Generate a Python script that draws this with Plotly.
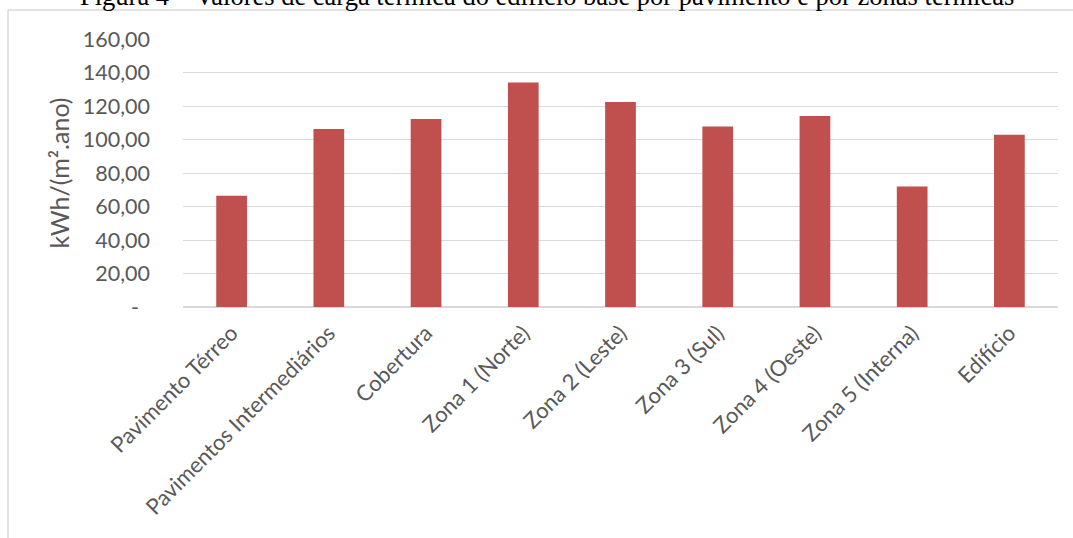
import plotly.graph_objects as go

# Thermal load per floor and per thermal zone (kWh/(m².ano))
categories = [
    "Pavimento Térreo",
    "Pavimentos Intermediários",
    "Cobertura",
    "Zona 1 (Norte)",
    "Zona 2 (Leste)",
    "Zona 3 (Sul)",
    "Zona 4 (Oeste)",
    "Zona 5 (Interna)",
    "Edifício",
]
values = [66.4, 106.3, 112.3, 134.0, 122.4, 107.7, 114.0, 72.0, 102.9]

tick_vals = [0, 20, 40, 60, 80, 100, 120, 140, 160]
tick_text = ["-\u00a0\u00a0", "20,00", "40,00", "60,00", "80,00",
             "100,00", "120,00", "140,00", "160,00"]

title_text = ("Figura 4 – Valores de carga térmica do edifício base "
              "por pavimento e por zonas térmicas")

W, H = 1073, 538
L, R, T, B = 183, 15, 39, 231
pw, ph = W - L - R, H - T - B


def px_x(x):
    return (x - L) / pw


def px_y(y):
    return (H - B - y) / ph


TEXT = "#595959"
GRID = "#D9D9D9"
FONT = "Lato"

fig = go.Figure(
    go.Bar(
        x=categories,
        y=values,
        marker=dict(color="#C0504D", line=dict(width=0)),
        width=0.316,
    )
)

fig.update_layout(
    width=W,
    height=H,
    margin=dict(l=L, r=R, t=T, b=B),
    paper_bgcolor="white",
    plot_bgcolor="white",
    showlegend=False,
    font=dict(family=FONT, color=TEXT, size=22),
)

fig.update_xaxes(
    tickangle=-45,
    tickfont=dict(family=FONT, size=22, color=TEXT),
    showgrid=False,
    showline=False,
    ticks="",
    ticklabelstandoff=8,
    range=[-0.5, len(categories) - 0.5],
)

fig.update_yaxes(
    range=[0, 160],
    tickvals=tick_vals,
    ticktext=tick_text,
    tickfont=dict(family=FONT, size=21.5, color=TEXT),
    showgrid=True,
    gridcolor=GRID,
    gridwidth=1,
    zeroline=True,
    zerolinecolor=GRID,
    zerolinewidth=1.5,
    ticks="",
    ticklabelstandoff=32,
    title=dict(
        text="kWh/(m².ano)",
        font=dict(family=FONT, size=25, color=TEXT),
        standoff=6,
    ),
)

# Frame lines of the chart area (top and left edges)
fig.add_shape(type="line", xref="paper", yref="paper",
              x0=px_x(8), x1=px_x(W), y0=px_y(10), y1=px_y(10),
              line=dict(color="#D9D9D9", width=1.5))
fig.add_shape(type="line", xref="paper", yref="paper",
              x0=px_x(8), x1=px_x(8), y0=px_y(10), y1=px_y(H + 2),
              line=dict(color="#D9D9D9", width=1.5))

# Figure caption above the frame
fig.add_annotation(
    text=title_text,
    xref="paper", yref="paper",
    x=px_x(547), y=px_y(-4),
    xanchor="center", yanchor="middle",
    showarrow=False,
    font=dict(family="Liberation Serif", size=26.5, color="black"),
)

fig.write_html("out.html")
